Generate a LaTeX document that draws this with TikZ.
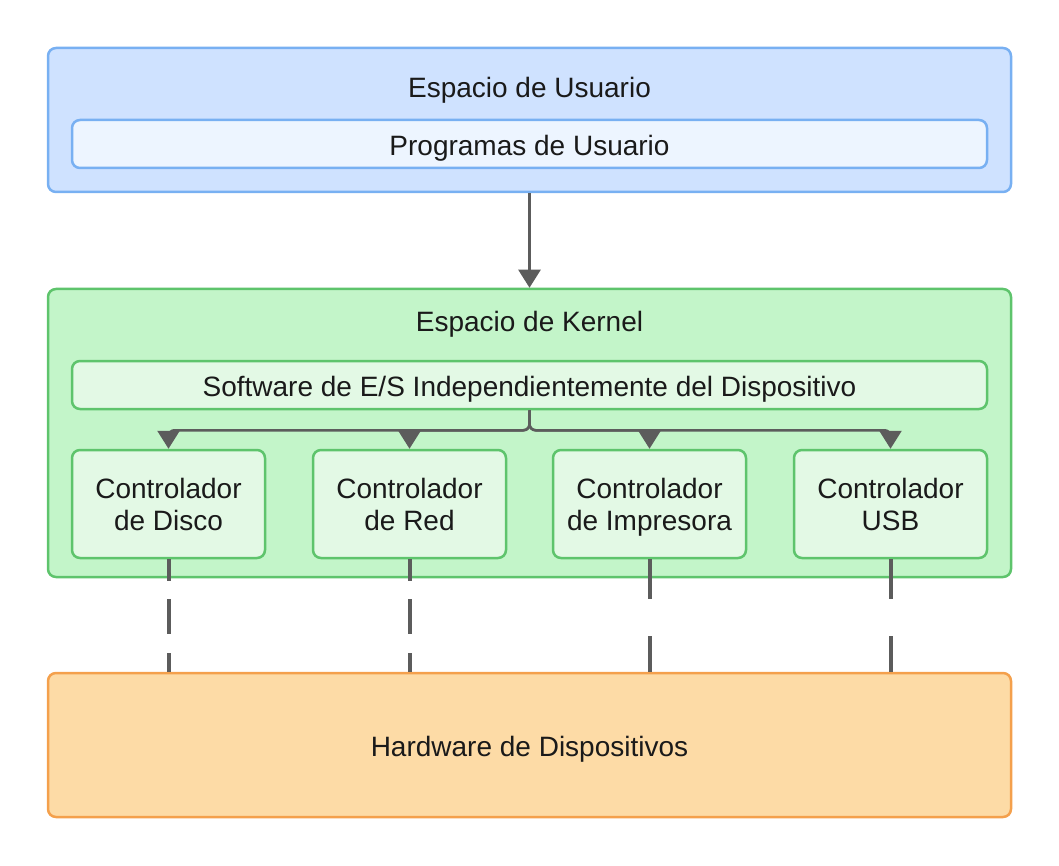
\documentclass[tikz,border=0pt]{standalone}
\usepackage{fontspec}
\setmainfont{Liberation Sans}
\usetikzlibrary{arrows.meta}
\definecolor{userfill}{HTML}{CFE2FF}
\definecolor{userdraw}{HTML}{78B0F2}
\definecolor{progfill}{HTML}{EDF5FF}
\definecolor{kernfill}{HTML}{C3F5C9}
\definecolor{kerndraw}{HTML}{5EC46C}
\definecolor{ctrlfill}{HTML}{E3F9E5}
\definecolor{hwfill}{HTML}{FDDBA6}
\definecolor{hwdraw}{HTML}{F4A04C}
\definecolor{linegrey}{HTML}{5C5C5C}
\definecolor{txtcol}{HTML}{1A1A1A}
\tikzset{
  box/.style={rounded corners=8pt, line width=2.5pt, inner sep=0pt},
  outerblue/.style={box, draw=userdraw, fill=userfill},
  innerblue/.style={box, draw=userdraw, fill=progfill},
  outergreen/.style={box, draw=kerndraw, fill=kernfill},
  innergreen/.style={box, draw=kerndraw, fill=ctrlfill},
  outerorange/.style={box, draw=hwdraw, fill=hwfill},
  lbl/.style={text=txtcol, font=\fontsize{28}{32}\selectfont, align=center, inner sep=0pt},
  arr/.style={draw=linegrey, line width=2.5pt, -{Triangle[width=22pt,length=18pt]}},
  hwlink/.style={draw=linegrey, line width=4pt},
}
\begin{document}
\begin{tikzpicture}[x=1pt,y=-1pt]
\useasboundingbox (0,0) rectangle (1059,866);
% user space
\node[outerblue, minimum width=963pt, minimum height=144pt] (user) at (529.5,120) {};
\node[lbl] (usertitle) at (529.5,90) {Espacio de Usuario};
\node[innerblue, minimum width=915pt, minimum height=48pt] (prog) at (529.5,144) {};
\node[lbl] (progtext) at (529.5,148) {Programas de Usuario};
% kernel space
\node[outergreen, minimum width=963pt, minimum height=288pt] (kern) at (529.5,433) {};
\node[lbl] (kerntitle) at (529.5,324) {Espacio de Kernel};
\node[innergreen, minimum width=915pt, minimum height=48pt] (sw) at (529.5,385) {};
\node[lbl] (swtext) at (529.5,389) {Software de E/S Independientemente del Dispositivo};
\node[innergreen, minimum width=193pt, minimum height=108pt] (c1) at (168.5,504) {};
\node[innergreen, minimum width=193pt, minimum height=108pt] (c2) at (409.5,504) {};
\node[innergreen, minimum width=193pt, minimum height=108pt] (c3) at (649.5,504) {};
\node[innergreen, minimum width=193pt, minimum height=108pt] (c4) at (890.5,504) {};
\node[lbl] (c1t) at (168.5,504) {Controlador\\de Disco};
\node[lbl] (c2t) at (409.5,504) {Controlador\\de Red};
\node[lbl] (c3t) at (649.5,507) {Controlador\\de Impresora};
\node[lbl] (c4t) at (890.5,504) {Controlador\\USB};
% hardware
\node[outerorange, minimum width=963pt, minimum height=144pt] (hw) at (529.5,745) {};
\node[lbl] (hwtext) at (529.5,749) {Hardware de Dispositivos};
% connectors
\draw[arr] (user.south) -- (kern.north);
\foreach \c in {c1,c2,c3,c4}{
  \draw[arr, rounded corners=6pt] (sw.south) -- ++(0,20) -| (\c.north);
}
\draw[hwlink, dash pattern=on 22pt off 18pt on 35pt off 19pt on 21pt] (c1.south) -- (c1.south |- hw.north);
\draw[hwlink, dash pattern=on 22pt off 18pt on 35pt off 19pt on 21pt] (c2.south) -- (c2.south |- hw.north);
\draw[hwlink, dash pattern=on 40pt off 37pt on 38pt] (c3.south) -- (c3.south |- hw.north);
\draw[hwlink, dash pattern=on 40pt off 37pt on 38pt] (c4.south) -- (c4.south |- hw.north);
\end{tikzpicture}
\end{document}
